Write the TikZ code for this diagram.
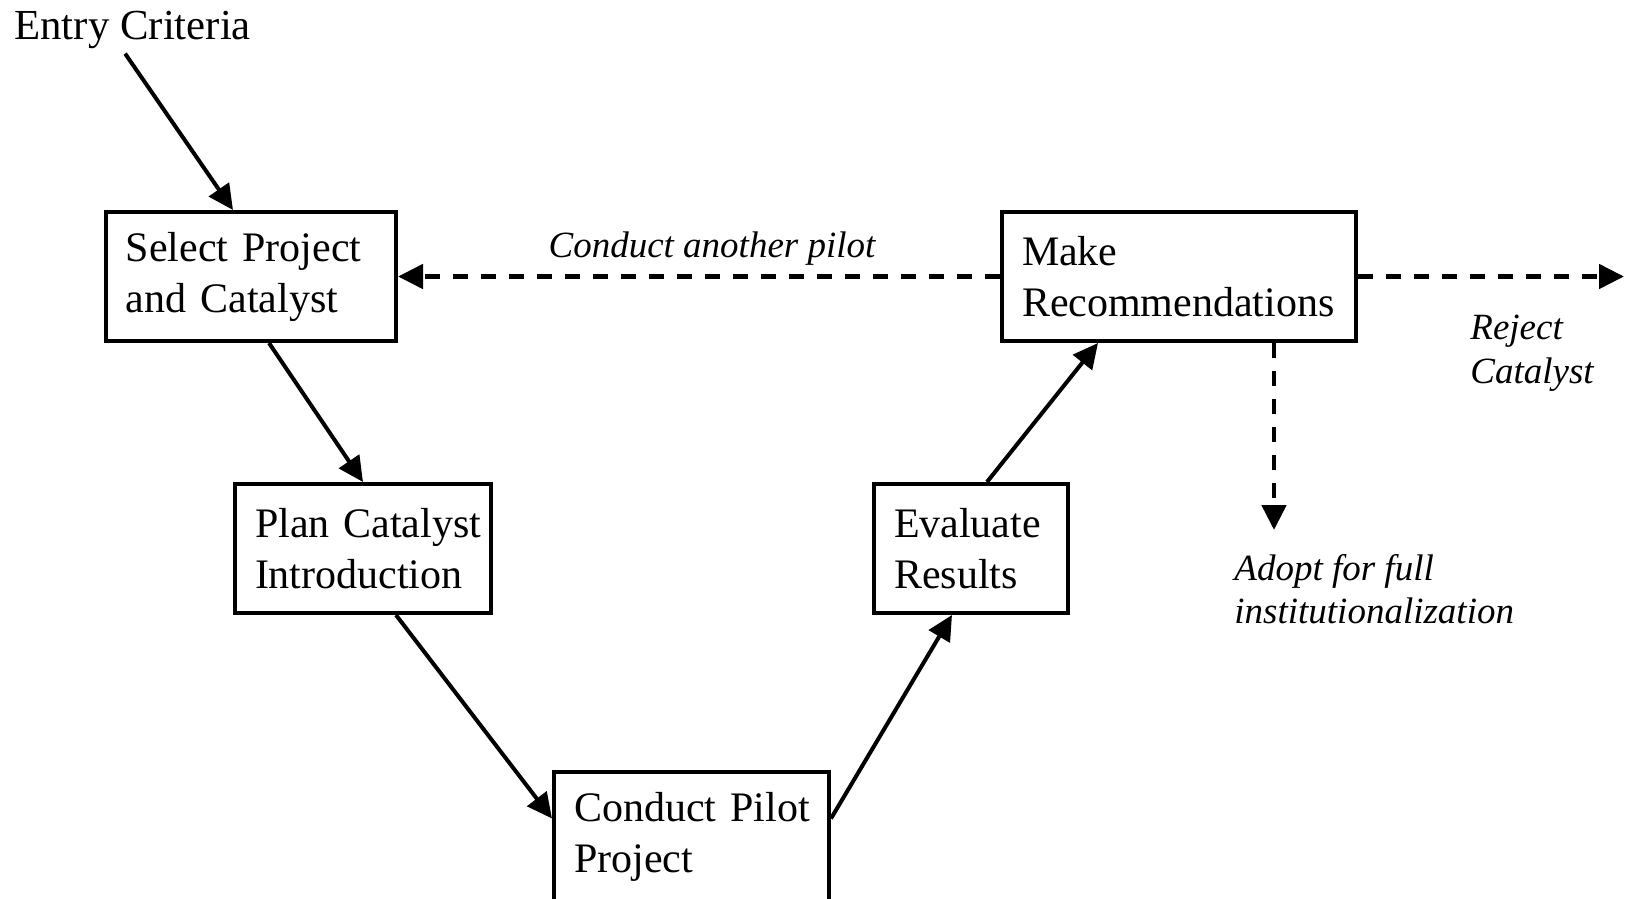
\documentclass[tikz,border=0pt]{standalone}
\usepackage{fontspec}
\setmainfont{Liberation Serif}
\usepackage{tikz}
\usetikzlibrary{arrows.meta,calc}

\tikzset{
    stage/.style={draw, line width=2pt, minimum height=64.5pt, inner xsep=10pt,
                  inner ysep=0pt, align=left, font=\fontsize{21pt}{25.5pt}\selectfont},
    flow/.style={line width=2pt, -{Triangle[length=12.5pt,width=12pt]}},
    alt/.style={flow, line width=2.4pt, dash pattern=on 7.5pt off 6.5pt},
    note/.style={align=left, inner sep=0pt, font=\fontsize{18.5pt}{21.8pt}\selectfont\itshape}
}

\begin{document}
\begin{tikzpicture}[x=0.5pt, y=-0.5pt]
    \useasboundingbox (0,0) rectangle (1630,899);

    % stages of the pilot
    \node[anchor=base west, inner sep=0pt, font=\fontsize{21.4pt}{25.5pt}\selectfont]
      (entry) at (14,40) {Entry Criteria};
    \node[stage, text width=125pt] (select) at (251,276.5) {\mbox{Select Project}\\\mbox{and Catalyst}};
    \node[stage, text width=108pt] (plan) at (363,548.5) {\mbox{Plan Catalyst}\\\mbox{Introduction}};
    \node[stage, text width=117.5pt] (conduct) at (691.5,836.5) {\mbox{Conduct Pilot}\\\mbox{Project}};
    \node[stage, text width=77pt] (evaluate) at (971,548.5) {\mbox{Evaluate}\\\mbox{Results}};
    \node[stage, text width=157pt] (make) at (1179,276.5) {\mbox{Make}\\\mbox{Recommendations}};

    % outcomes
    \coordinate (rejectend) at (1624,276.5);
    \coordinate (adoptend) at (1274,530);
    \node[note, anchor=center] (pilotnote) at (712,249) {Conduct another pilot};
    \node[note, anchor=west] (rejectnote) at (1470,353) {Reject\\Catalyst};
    \node[note, anchor=west] (adoptnote) at (1234,589) {Adopt for full\\institutionalization};

    \draw[flow] ([xshift=-3.75pt,yshift=-2pt]entry.south) -- ([xshift=-9pt]select.north);
    \draw[flow] ([xshift=9pt]select.south) -- (plan.north);
    \draw[flow] ([xshift=16.5pt]plan.south) -- ([yshift=9pt]conduct.west);
    \draw[flow] ([yshift=9pt]conduct.east) -- ([xshift=-9.5pt]evaluate.south);
    \draw[flow] ([xshift=8pt]evaluate.north) -- ([xshift=-40.5pt]make.south);
    \draw[alt] (make.west) -- (select.east);
    \draw[alt] (make.east) -- (rejectend);
    \draw[alt] ([xshift=47.5pt]make.south) -- (adoptend);
\end{tikzpicture}
\end{document}
